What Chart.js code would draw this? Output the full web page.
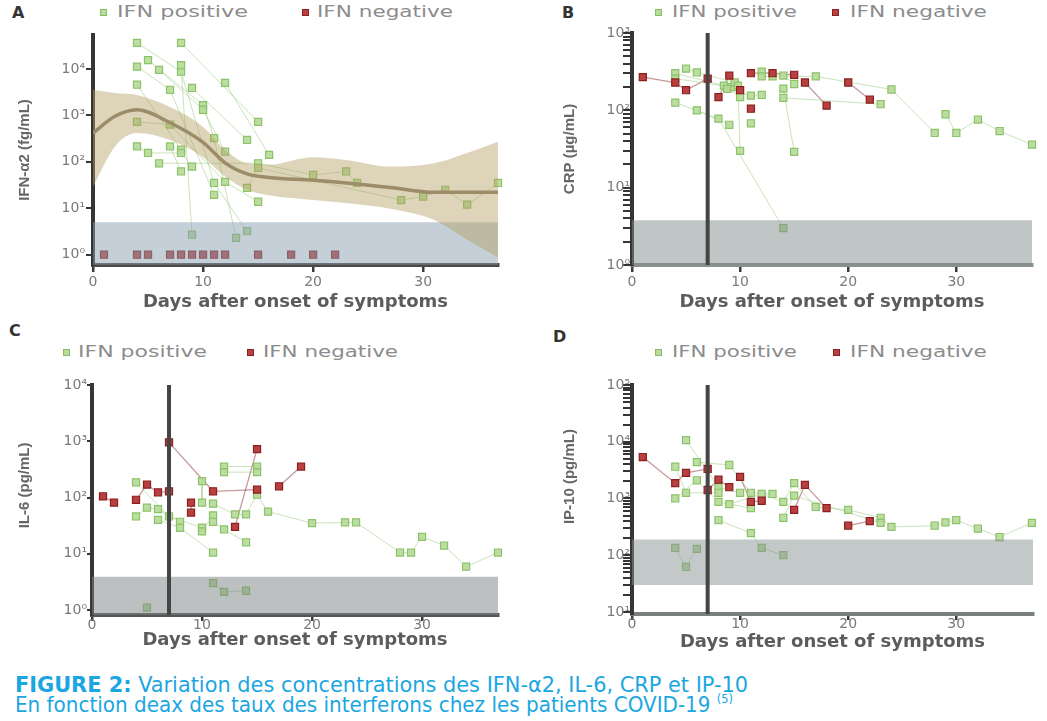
<!DOCTYPE html>
<html><head><meta charset="utf-8">
<script src="https://cdn.jsdelivr.net/npm/chart.js@4.4.1/dist/chart.umd.min.js"></script>
<style>
html,body{margin:0;padding:0;background:#fff;}
body{width:1047px;height:721px;position:relative;overflow:hidden;font-family:"DejaVu Sans",sans-serif;}
canvas{position:absolute;}
.lab{position:absolute;font-weight:bold;font-size:16px;color:#333;line-height:16px;}
.leg{position:absolute;font-size:15px;color:#8c8c8c;line-height:18px;white-space:nowrap;transform-origin:0 50%;}
.mk{position:absolute;width:7px;height:7px;box-sizing:border-box;}
.mk.p{background:rgba(175,215,145,0.9);border:1px solid #86bf62;}
.mk.n{background:#b84040;border:1px solid #8a2020;}
.cap{position:absolute;left:15px;font-family:"Liberation Sans Narrow","DejaVu Sans Condensed",sans-serif;font-size:21px;color:#1ba6e2;white-space:nowrap;transform-origin:0 0;line-height:21px;}
.cap b{font-weight:bold;}
.cap sup{font-size:12px;vertical-align:9px;line-height:0;}
</style></head><body>
<div class="lab" style="left:12px;top:5px">A</div>
<div class="lab" style="left:562px;top:5px">B</div>
<div class="lab" style="left:9px;top:323px">C</div>
<div class="lab" style="left:553px;top:329px">D</div>

<div class="mk p" style="left:100px;top:9px"></div><div class="leg" data-w="131" style="left:117px;top:3px">IFN positive</div>
<div class="mk n" style="left:302px;top:9px"></div><div class="leg" data-w="136" style="left:317px;top:3px">IFN negative</div>
<div class="mk p" style="left:655px;top:9px"></div><div class="leg" data-w="125" style="left:672px;top:3px">IFN positive</div>
<div class="mk n" style="left:832px;top:9px"></div><div class="leg" data-w="137" style="left:850px;top:3px">IFN negative</div>
<div class="mk p" style="left:63px;top:349px"></div><div class="leg" data-w="129" style="left:78px;top:343px">IFN positive</div>
<div class="mk n" style="left:247px;top:349px"></div><div class="leg" data-w="135" style="left:263px;top:343px">IFN negative</div>
<div class="mk p" style="left:655px;top:349px"></div><div class="leg" data-w="125" style="left:672px;top:343px">IFN positive</div>
<div class="mk n" style="left:833px;top:349px"></div><div class="leg" data-w="137" style="left:850px;top:343px">IFN negative</div>

<div class="cap" data-w="733" style="top:675px"><b>FIGURE 2:</b> Variation des concentrations des IFN-α2, IL-6, CRP et IP-10</div>
<div class="cap" data-w="718" style="top:695px">En fonction deax des taux des interferons chez les patients COVID-19 <sup>(5)</sup></div>

<script>
// ---------- shared ticks ----------
const dayTicks = [0, 10, 20, 30];
const supDigits = {'0':'⁰','1':'¹','2':'²','3':'³','4':'⁴','5':'⁵'};

// ---------- Panel A : IFN-α2 ----------
const decadesA = [1, 10, 100, 1000, 10000];
const posA = [
  [[4,36300],[8,8700],[11,35],[14,3.2]],
  [[8,36300],[15,725]],
  [[12,5000],[16,141]],
  [[9,3890],[14,295]],
  [[5,15500],[10,1660],[11,324],[13,2.3]],
  [[6,9550],[10,1320],[12,166]],
  [[4,11200],[7,3550],[11,19.5]],
  [[8,12000],[9,2.7]],
  [[4,4570],[8,182]],
  [[4,725],[7,630],[12,37],[15,13.8]],
  [[4,214],[5,155],[8,155],[9,79]],
  [[7,214],[8,62]],
  [[6,93],[15,93],[20,52],[23,62],[24,35]],
  [[14,27.5],[15,74],[28,15],[30,17.8],[32,25],[34,12],[36.8,35]]
];
const negA = [
  [[1,1]],[[4,1]],[[5,1]],[[7,1]],[[8,1]],[[9,1]],[[10,1]],
  [[11,1]],[[12,1]],[[15,1]],[[18,1]],[[20,1]],[[22,1]]
];
const fitDaysA  = [0, 2, 4, 7, 10, 12, 14, 16, 20, 23, 27, 31, 34, 36.8];
const fitA      = [417, 955, 1320, 692, 263, 95, 55, 46, 40, 35, 28, 22, 22, 22];
const fitUpperA = [3550, 3020, 2750, 1510, 562, 182, 93, 87, 126, 110, 79, 93, 155, 269];
const fitLowerA = [29, 214, 417, 295, 126, 48, 25, 19, 15, 13, 9.8, 5.6, 2.1, 0.87];

// ---------- Panel B : CRP ----------
const decadesB = [1, 10, 100, 1000];
const posB = [
  [[4,302],[8.5,209],[10,148]],
  [[4,257],[9.2,200]],
  [[4,126],[8,78],[14,3]],
  [[5,347],[6,309],[9.5,229]],
  [[6,100],[9,65]],
  [[8.8,190],[11,155],[12,158]],
  [[9.8,209],[10,30]],
  [[11,68]],
  [[12,316],[14,282],[15,219]],
  [[12,275],[13,275],[17,275],[24,186],[28,51]],
  [[14,191],[15,29]],
  [[14,145],[23,120]],
  [[29,89],[30,51],[32,76],[34,54],[37,36]]
];
const negB = [
  [[1,269],[4,229],[5,182],[7,257]],
  [[8,148],[9,282],[10,182]],
  [[11,302],[13,302],[15,288]],
  [[11,105]],
  [[16,229],[18,115]],
  [[20,229],[22,138]]
];

// ---------- Panel C : IL-6 ----------
const decadesC = [1, 10, 100, 1000, 10000];
const posC = [
  [[4,186],[7,46],[10,29]],
  [[4,46],[5,66],[6,62],[8,37]],
  [[6,40],[8,29],[11,10.5]],
  [[10,195],[10,81]],
  [[10,25],[11,48]],
  [[11,78],[13,50],[14,50],[15,112],[16,56],[20,35],[23,36],[24,36],[28,10.5],[29,10.5],[30,20],[32,14],[34,5.9],[36.9,10.5]],
  [[12,355],[15,355]],
  [[12,282],[15,282]],
  [[11,37],[12,27],[14,16]],
  [[11,3],[12,2.1],[14,2.2]],
  [[5,1.1]]
];
const negC = [
  [[1,105],[2,81]],
  [[4,91],[5,170],[6,123],[7,129]],
  [[7,955],[11,129],[15,138]],
  [[9,81],[9,54]],
  [[13,30],[15,724]],
  [[17,158],[19,355]]
];

// ---------- Panel D : IP-10 ----------
const decadesD = [10, 100, 1000, 10000, 100000];
const posD = [
  [[5,10700],[8,1580],[10,1260]],
  [[4,3630],[5,1260],[8,1260]],
  [[6,4370],[9,3890],[11,1260],[13,1200]],
  [[4,1000],[6,2090],[8,870],[11,676]],
  [[9,794],[12,1200],[14,870],[15,1860],[17,708],[20,631],[23,457],[24,316],[28,331],[29,380],[30,417],[32,295],[34,209],[37,372]],
  [[14,457],[15,1120],[23,372]],
  [[8,417],[11,245],[12,135],[14,100]],
  [[4,135],[5,62],[6,129]]
];
const negD = [
  [[1,5370],[4,1860],[5,2820],[7,3310]],
  [[7,1410],[8,2140],[9,1580]],
  [[10,2400],[11,870],[12,912]],
  [[15,631],[16,1740],[18,676]],
  [[20,331],[22,398]]
];

function decadeLabel(v){
  const e = String(Math.round(Math.log10(v)));
  return '10' + e.split('').map(c => supDigits[c]).join('');
}
const pt = a => ({x:a[0], y:a[1]});

function makePanel(p){
  const c = document.createElement('canvas');
  c.width = p.rect.w; c.height = p.rect.h;
  c.style.left = p.rect.x + 'px'; c.style.top = p.rect.y + 'px';
  c.style.width = p.rect.w + 'px'; c.style.height = p.rect.h + 'px';
  document.body.appendChild(c);

  const lhX = 18 * 1.2, lhY = 15 * 1.2;
  const padLeft = p.yTitleX - p.rect.x - lhY / 2;
  const yW = p.area.l - p.rect.x - padLeft;
  const padTop = p.area.t - p.rect.y;
  const padRight = p.rect.x + p.rect.w - p.area.r;
  const xBottom = p.xTitleY - p.rect.y + lhX / 2;
  const padBottom = p.rect.h - xBottom;
  const xH = xBottom - (p.area.b - p.rect.y);

  const ds = [];
  // patient trajectories
  p.pos.forEach(tr => { if (tr.length > 1) ds.push({type:'line', data:tr.map(pt), borderColor:'rgba(150,200,120,0.5)', borderWidth:1, pointRadius:0, fill:false, order:9}); });
  p.neg.forEach(tr => { if (tr.length > 1) ds.push({type:'line', data:tr.map(pt), borderColor:'rgba(150,70,70,0.55)', borderWidth:1.3, pointRadius:0, fill:false, order:9}); });
  // points
  ds.push({label:'IFN positive', type:'scatter', data:p.pos.flat().map(pt), pointStyle:'rect', pointRadius:5,
    backgroundColor:'rgba(182,218,152,0.9)', borderColor:'#8cc268', borderWidth:1.2, order:8, clip:false});
  ds.push({label:'IFN negative', type:'scatter', data:p.neg.flat().map(pt), pointStyle:'rect', pointRadius:5,
    backgroundColor:'#b84040', borderColor:'#8a2020', borderWidth:1.2, order:7, clip:false});
  // detection band
  if (p.band.lo == null) {
    ds.push({type:'line', data:[{x:0,y:p.band.hi},{x:p.xMax,y:p.band.hi}], fill:{value:p.yMin},
      backgroundColor:p.bandColor, borderWidth:0, pointRadius:0, order:4});
  } else {
    ds.push({type:'line', data:[{x:0,y:p.band.lo},{x:p.xMax,y:p.band.lo}], fill:false, borderWidth:0, pointRadius:0, order:4});
    ds.push({type:'line', data:[{x:0,y:p.band.hi},{x:p.xMax,y:p.band.hi}], fill:'-1',
      backgroundColor:p.bandColor, borderWidth:0, pointRadius:0, order:4});
  }
  // fitted curve with confidence band
  if (p.fit) {
    ds.push({type:'line', data:p.fit.days.map((d,i)=>({x:d,y:p.fit.upper[i]})), fill:false, borderWidth:0, pointRadius:0, cubicInterpolationMode:'monotone', order:3});
    ds.push({type:'line', data:p.fit.days.map((d,i)=>({x:d,y:p.fit.lower[i]})), fill:'-1', backgroundColor:'rgba(180,160,100,0.45)', borderWidth:0, pointRadius:0, cubicInterpolationMode:'monotone', order:3});
    ds.push({type:'line', data:p.fit.days.map((d,i)=>({x:d,y:p.fit.mid[i]})), fill:false, borderColor:'#9c8c68', borderWidth:3.5, pointRadius:0, cubicInterpolationMode:'monotone', order:2});
  }
  // day-7 marker
  if (p.vline != null) {
    ds.push({type:'line', data:[{x:p.vline,y:p.yMin},{x:p.vline,y:p.yMax}], borderColor:'#454545', borderWidth:4, pointRadius:0, fill:false, order:1});
  }

  const allTicks = [];
  p.decades.forEach(d => {
    allTicks.push(d);
    if (p.minor) for (let k = 2; k <= 9; k++) { const v = d * k; if (v <= p.yMax) allTicks.push(v); }
  });
  if (p.minor) for (let k = 2; k <= 9; k++) { const v = p.decades[0] / 10 * k; if (v >= p.yMin) allTicks.unshift(v); }

  new Chart(c, {
    type:'scatter',
    data:{datasets:ds},
    options:{
      responsive:false, animation:false, events:[],
      layout:{padding:{left:padLeft, right:padRight, top:padTop, bottom:padBottom}},
      plugins:{legend:{display:false}, tooltip:{enabled:false}},
      scales:{
        x:{type:'linear', min:0, max:p.xMax,
          afterBuildTicks: s => { s.ticks = dayTicks.map(v => ({value:v})); },
          afterFit: s => { s.height = xH; },
          ticks:{autoSkip:false, color:'#7a7a7a', padding:p.xTickPad, font:{family:'DejaVu Sans', size:14}},
          grid:{drawOnChartArea:false, tickLength:p.xTickLen, color:'#3a3a3a', lineWidth:2.5},
          border:{display:true, color:p.xBorder, width:4},
          title:{display:true, text:'Days after onset of symptoms', color:'#5c5c5c', padding:0,
            font:{family:'DejaVu Sans', size:18, weight:'bold'}}
        },
        y:{type:'logarithmic', min:p.yMin, max:p.yMax,
          afterBuildTicks: s => { s.ticks = allTicks.map(v => ({value:v})); },
          afterFit: s => { s.width = yW; },
          ticks:{autoSkip:false, color:'#7a7a7a', padding:p.yTickPad, font:{family:'DejaVu Sans', size:14},
            callback: v => p.decades.includes(v) ? decadeLabel(v) : ''},
          grid:{drawOnChartArea:false, tickLength:p.yTickLen, color:'#353535', lineWidth:2},
          border:{display:true, color:'#363636', width:4},
          title:{display:true, text:p.yTitle, color:'#666', padding:0,
            font:{family:'Liberation Sans', size:15, weight:'bold'}}
        }
      }
    }
  });
}

makePanel({rect:{x:0,y:0,w:520,h:320}, area:{l:93,t:35,r:498,b:265}, yMin:0.61, yMax:53700, xMax:36.8,
  xTitleY:302, yTitleX:25, yTitle:'IFN-α2 (fg/mL)', decades:decadesA, minor:false,
  pos:posA, neg:negA, band:{lo:null, hi:5}, bandColor:'rgba(140,160,175,0.5)', vline:null,
  fit:{days:fitDaysA, mid:fitA, upper:fitUpperA, lower:fitLowerA},
  xTickPad:2, xTickLen:7, yTickPad:1, yTickLen:7, xBorder:'#4a4a4a'});

makePanel({rect:{x:520,y:0,w:527,h:320}, area:{l:632,t:33,r:1032,b:265}, yMin:1, yMax:1000, xMax:37,
  xTitleY:302, yTitleX:570, yTitle:'CRP (µg/mL)', decades:decadesB, minor:true,
  pos:posB, neg:negB, band:{lo:null, hi:3.8}, bandColor:'rgba(130,142,142,0.5)', vline:7, fit:null,
  xTickPad:2, xTickLen:7, yTickPad:-7, yTickLen:9, xBorder:'#8a9090'});

makePanel({rect:{x:0,y:320,w:520,h:340}, area:{l:92,t:385,r:498,b:615}, yMin:0.815, yMax:10000, xMax:36.9,
  xTitleY:640, yTitleX:25, yTitle:'\u00a0\u00a0\u00a0\u00a0\u00a0\u00a0\u00a0IL-6 (pg/mL)', decades:decadesC, minor:false,
  pos:posC, neg:negC, band:{lo:null, hi:3.9}, bandColor:'rgba(128,134,134,0.52)', vline:7, fit:null,
  xTickPad:-4, xTickLen:6, yTickPad:0, yTickLen:5, xBorder:'#555'});

makePanel({rect:{x:520,y:320,w:527,h:340}, area:{l:632,t:385,r:1033,b:614}, yMin:9.2, yMax:100000, xMax:37.1,
  xTitleY:642, yTitleX:570, yTitle:'\u00a0\u00a0\u00a0\u00a0\u00a0\u00a0\u00a0\u00a0\u00a0\u00a0\u00a0IP-10 (pg/mL)', decades:decadesD, minor:true,
  pos:posD, neg:negD, band:{lo:30, hi:190}, bandColor:'rgba(135,145,145,0.5)', vline:7, fit:null,
  xTickPad:-4, xTickLen:6, yTickPad:-7, yTickLen:9, xBorder:'#7a8080'});

// stretch HTML texts to the widths measured in the reference
document.querySelectorAll('[data-w]').forEach(el => {
  const w = el.getBoundingClientRect().width;
  if (w > 0) el.style.transform = 'scaleX(' + (parseFloat(el.dataset.w) / w) + ')';
});
</script>
</body></html>
